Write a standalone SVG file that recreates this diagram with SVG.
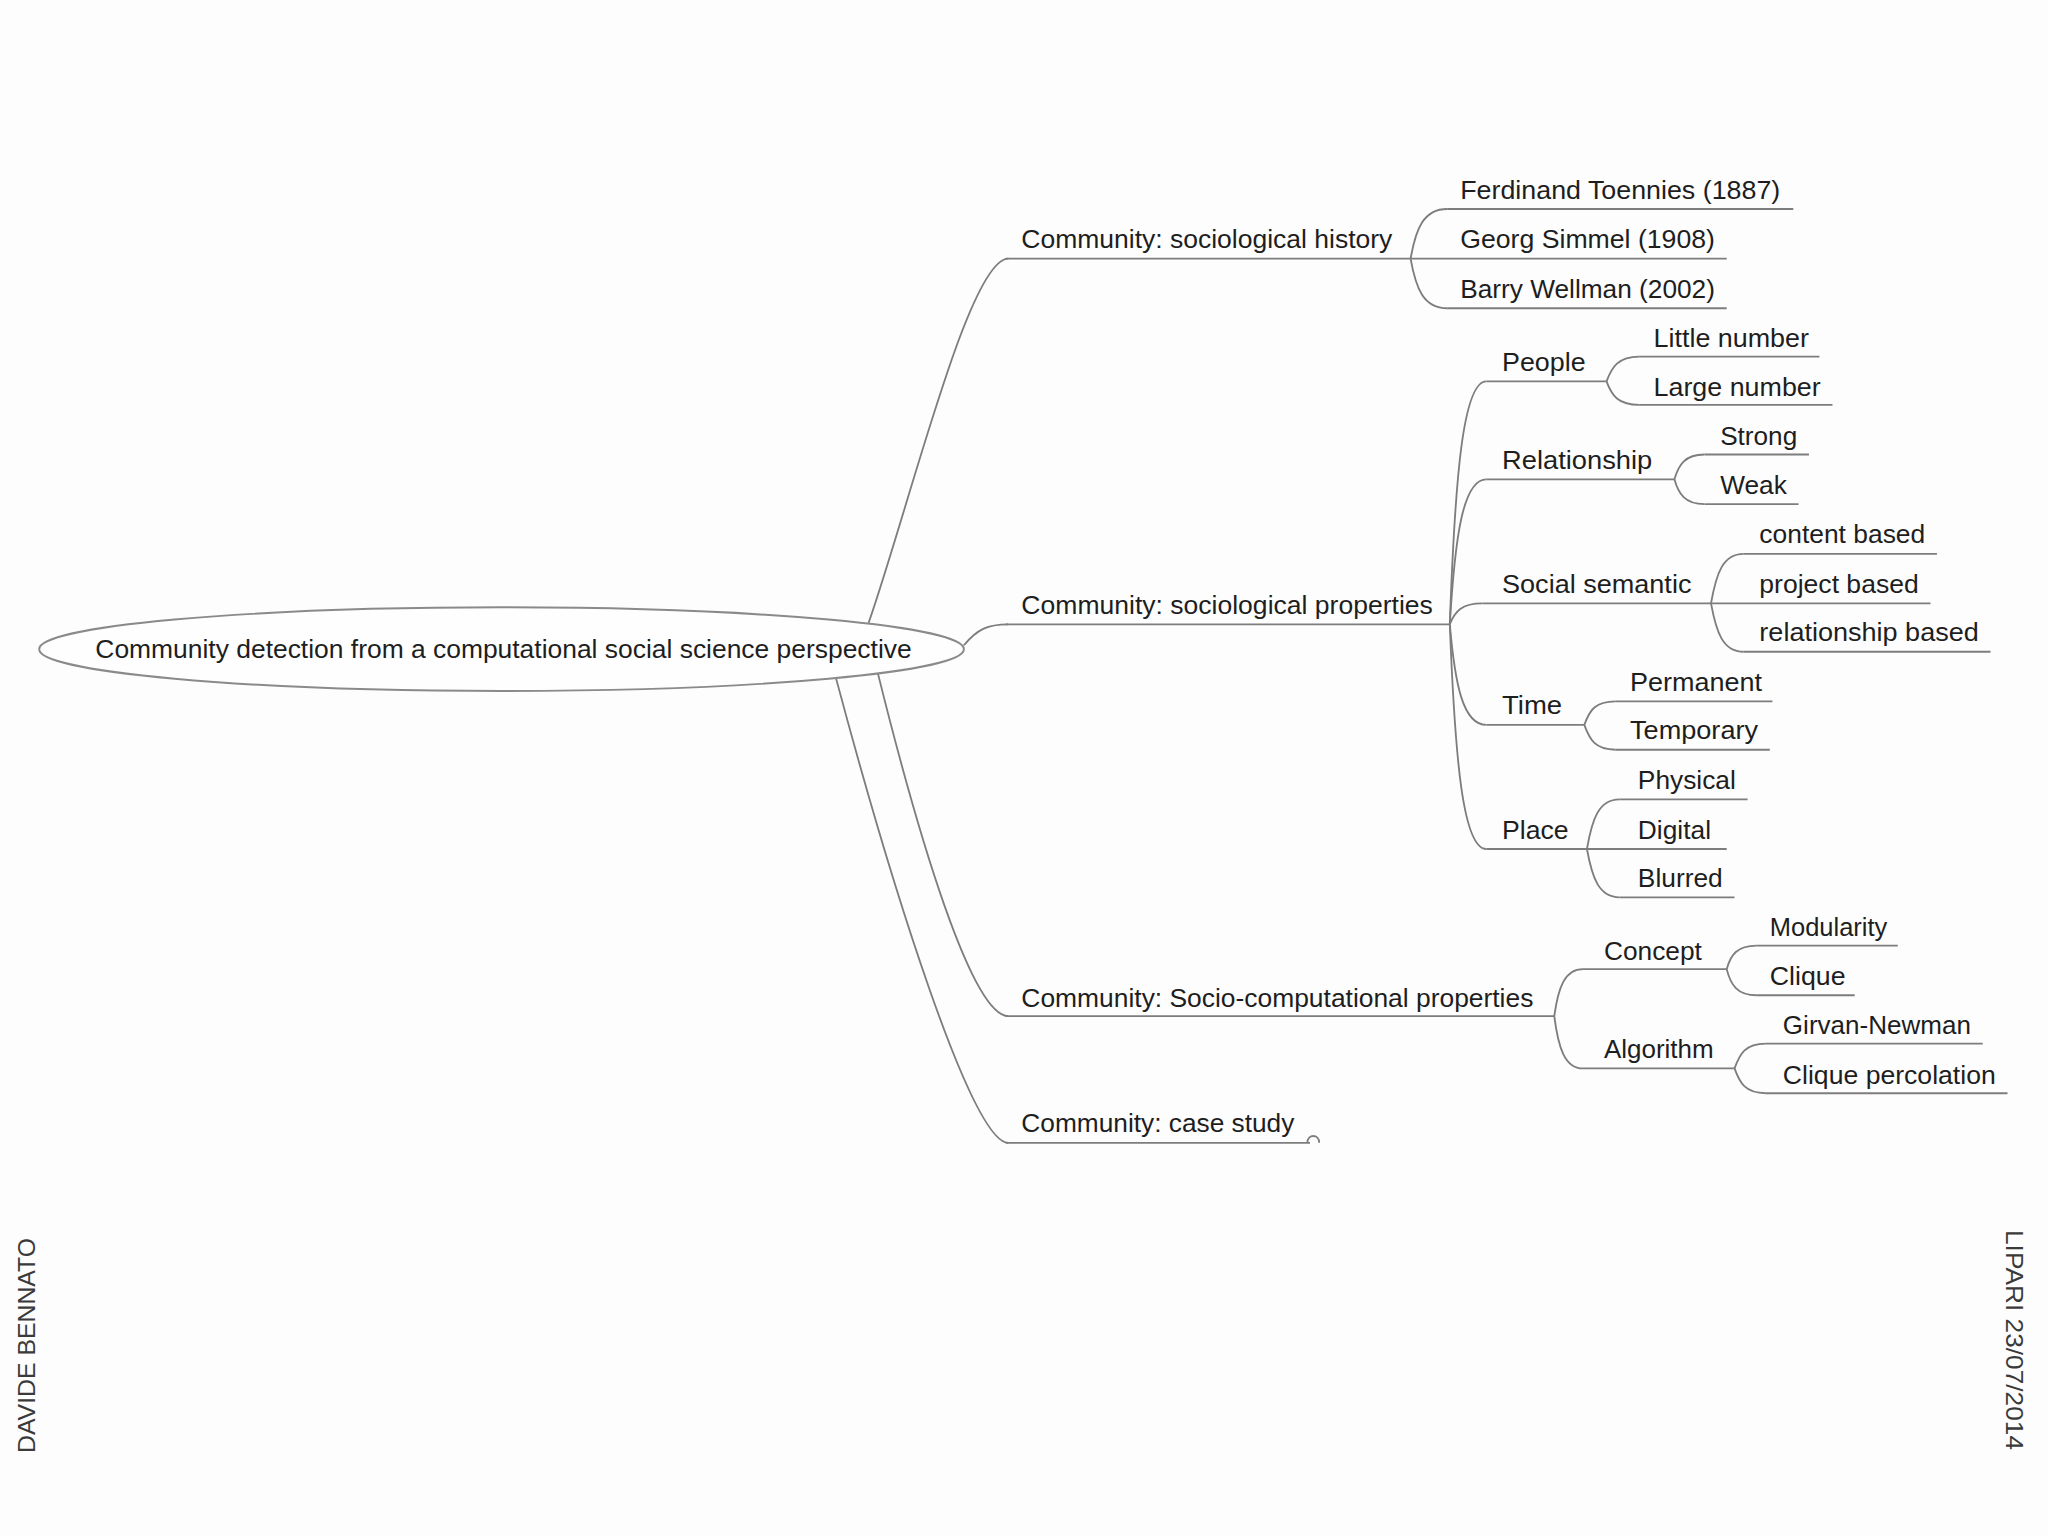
<svg xmlns="http://www.w3.org/2000/svg" width="2048" height="1536" viewBox="0 0 2048 1536">
<style>
.t{font-family:"Liberation Sans",Arial,sans-serif;font-size:19.5px;fill:#1e1e1e;}
.u{stroke:#7d7d7d;stroke-width:1.4;fill:none;}
.c{stroke:#7d7d7d;stroke-width:1.4;fill:none;}
.side{font-family:"Liberation Sans",Arial,sans-serif;font-size:24px;fill:#3a3a3a;}
</style>
<rect x="0" y="0" width="2048" height="1536" fill="#fdfdfd"/>
<g transform="scale(1.30612)">
<g id="connectors">
<path class="c" d="M665,477 C697,385 742,198 772,198"/>
<path class="c" d="M738,494 C748,482 756,478 772,478"/>
<path class="c" d="M672,515 C703,640 744,778 772,778"/>
<path class="c" d="M640,519 C683,680 744,875 772,875"/>
<path class="c" d="M1080,198 C1084,175 1090,160 1108,160"/>
<path class="c" d="M1080,198 C1084,221 1090,236 1108,236"/>
<path class="c" d="M1110,478 C1114,366 1120,292 1138,292"/>
<path class="c" d="M1110,478 C1114,411 1120,367 1138,367"/>
<path class="c" d="M1110,478 C1114,468 1119,462 1135,462"/>
<path class="c" d="M1110,478 C1114,524 1120,555 1138,555"/>
<path class="c" d="M1110,478 C1114,581 1120,650 1138,650"/>
<path class="c" d="M1190,778 C1193,756 1198,742 1212,742"/>
<path class="c" d="M1190,778 C1193,802 1198,818 1212,818"/>
<path class="c" d="M1230,292 C1234,281 1239,273 1255,273"/>
<path class="c" d="M1230,292 C1234,303 1239,310 1255,310"/>
<path class="c" d="M1282,367 C1285,356 1290,348 1305,348"/>
<path class="c" d="M1282,367 C1285,378 1290,386 1305,386"/>
<path class="c" d="M1310,462 C1314,439 1319,424 1335,424"/>
<path class="c" d="M1310,462 C1314,484 1319,499 1335,499"/>
<path class="c" d="M1213,555 C1217,544 1221,537 1237,537"/>
<path class="c" d="M1213,555 C1217,566 1221,574 1237,574"/>
<path class="c" d="M1215,650 C1219,627 1224,612 1240,612"/>
<path class="c" d="M1215,650 C1219,672 1224,687 1240,687"/>
<path class="c" d="M1322,742 C1325,731 1330,724 1345,724"/>
<path class="c" d="M1322,742 C1325,754 1330,762 1345,762"/>
<path class="c" d="M1328,818 C1332,807 1336,799 1352,799"/>
<path class="c" d="M1328,818 C1332,829 1336,837 1352,837"/>
</g>
<g id="root">
<ellipse cx="384" cy="497" rx="354" ry="32" fill="#fefefe" stroke="#8a8a8a" stroke-width="1.5"/>
<text class="t" x="73" y="504" textLength="625" lengthAdjust="spacingAndGlyphs">Community detection from a computational social science perspective</text>
</g>
<g id="n-history"><line class="u" x1="770" y1="198" x2="1080" y2="198"/><text class="t" x="782" y="190" textLength="284" lengthAdjust="spacingAndGlyphs">Community: sociological history</text></g>
<g id="n-properties"><line class="u" x1="770" y1="478" x2="1110" y2="478"/><text class="t" x="782" y="470" textLength="315" lengthAdjust="spacingAndGlyphs">Community: sociological properties</text></g>
<g id="n-socio"><line class="u" x1="770" y1="778" x2="1190" y2="778"/><text class="t" x="782" y="771" textLength="392" lengthAdjust="spacingAndGlyphs">Community: Socio-computational properties</text></g>
<g id="n-case"><line class="u" x1="770" y1="875" x2="1003" y2="875"/><path class="u" d="M1001,875 C1001,868 1010,868 1010,875"/><text class="t" x="782" y="867" textLength="209" lengthAdjust="spacingAndGlyphs">Community: case study</text></g>
<g id="n-toennies"><line class="u" x1="1108" y1="160" x2="1373" y2="160"/><text class="t" x="1118" y="152" textLength="245" lengthAdjust="spacingAndGlyphs">Ferdinand Toennies (1887)</text></g>
<g id="n-simmel"><line class="u" x1="1080" y1="198" x2="1322" y2="198"/><text class="t" x="1118" y="190" textLength="195" lengthAdjust="spacingAndGlyphs">Georg Simmel (1908)</text></g>
<g id="n-wellman"><line class="u" x1="1108" y1="236" x2="1322" y2="236"/><text class="t" x="1118" y="228" textLength="195" lengthAdjust="spacingAndGlyphs">Barry Wellman (2002)</text></g>
<g id="n-people"><line class="u" x1="1138" y1="292" x2="1230" y2="292"/><text class="t" x="1150" y="284" textLength="64" lengthAdjust="spacingAndGlyphs">People</text></g>
<g id="n-relationship"><line class="u" x1="1138" y1="367" x2="1282" y2="367"/><text class="t" x="1150" y="359" textLength="115" lengthAdjust="spacingAndGlyphs">Relationship</text></g>
<g id="n-semantic"><line class="u" x1="1135" y1="462" x2="1310" y2="462"/><text class="t" x="1150" y="454" textLength="145" lengthAdjust="spacingAndGlyphs">Social semantic</text></g>
<g id="n-time"><line class="u" x1="1138" y1="555" x2="1213" y2="555"/><text class="t" x="1150" y="547" textLength="46" lengthAdjust="spacingAndGlyphs">Time</text></g>
<g id="n-place"><line class="u" x1="1138" y1="650" x2="1215" y2="650"/><text class="t" x="1150" y="642" textLength="51" lengthAdjust="spacingAndGlyphs">Place</text></g>
<g id="n-little"><line class="u" x1="1255" y1="273" x2="1393" y2="273"/><text class="t" x="1266" y="266" textLength="119" lengthAdjust="spacingAndGlyphs">Little number</text></g>
<g id="n-large"><line class="u" x1="1255" y1="310" x2="1403" y2="310"/><text class="t" x="1266" y="303" textLength="128" lengthAdjust="spacingAndGlyphs">Large number</text></g>
<g id="n-strong"><line class="u" x1="1305" y1="348" x2="1385" y2="348"/><text class="t" x="1317" y="341" textLength="59" lengthAdjust="spacingAndGlyphs">Strong</text></g>
<g id="n-weak"><line class="u" x1="1305" y1="386" x2="1377" y2="386"/><text class="t" x="1317" y="378" textLength="51" lengthAdjust="spacingAndGlyphs">Weak</text></g>
<g id="n-content"><line class="u" x1="1335" y1="424" x2="1483" y2="424"/><text class="t" x="1347" y="416" textLength="127" lengthAdjust="spacingAndGlyphs">content based</text></g>
<g id="n-project"><line class="u" x1="1310" y1="462" x2="1478" y2="462"/><text class="t" x="1347" y="454" textLength="122" lengthAdjust="spacingAndGlyphs">project based</text></g>
<g id="n-relbased"><line class="u" x1="1335" y1="499" x2="1524" y2="499"/><text class="t" x="1347" y="491" textLength="168" lengthAdjust="spacingAndGlyphs">relationship based</text></g>
<g id="n-permanent"><line class="u" x1="1237" y1="537" x2="1357" y2="537"/><text class="t" x="1248" y="529" textLength="101" lengthAdjust="spacingAndGlyphs">Permanent</text></g>
<g id="n-temporary"><line class="u" x1="1237" y1="574" x2="1355" y2="574"/><text class="t" x="1248" y="566" textLength="98" lengthAdjust="spacingAndGlyphs">Temporary</text></g>
<g id="n-physical"><line class="u" x1="1240" y1="612" x2="1338" y2="612"/><text class="t" x="1254" y="604" textLength="75" lengthAdjust="spacingAndGlyphs">Physical</text></g>
<g id="n-digital"><line class="u" x1="1215" y1="650" x2="1322" y2="650"/><text class="t" x="1254" y="642" textLength="56" lengthAdjust="spacingAndGlyphs">Digital</text></g>
<g id="n-blurred"><line class="u" x1="1240" y1="687" x2="1328" y2="687"/><text class="t" x="1254" y="679" textLength="65" lengthAdjust="spacingAndGlyphs">Blurred</text></g>
<g id="n-concept"><line class="u" x1="1212" y1="742" x2="1322" y2="742"/><text class="t" x="1228" y="735" textLength="75" lengthAdjust="spacingAndGlyphs">Concept</text></g>
<g id="n-algorithm"><line class="u" x1="1212" y1="818" x2="1328" y2="818"/><text class="t" x="1228" y="810" textLength="84" lengthAdjust="spacingAndGlyphs">Algorithm</text></g>
<g id="n-modularity"><line class="u" x1="1345" y1="724" x2="1453" y2="724"/><text class="t" x="1355" y="717" textLength="90" lengthAdjust="spacingAndGlyphs">Modularity</text></g>
<g id="n-clique"><line class="u" x1="1345" y1="762" x2="1420" y2="762"/><text class="t" x="1355" y="754" textLength="58" lengthAdjust="spacingAndGlyphs">Clique</text></g>
<g id="n-girvan"><line class="u" x1="1352" y1="799" x2="1518" y2="799"/><text class="t" x="1365" y="792" textLength="144" lengthAdjust="spacingAndGlyphs">Girvan-Newman</text></g>
<g id="n-percolation"><line class="u" x1="1352" y1="837" x2="1537" y2="837"/><text class="t" x="1365" y="830" textLength="163" lengthAdjust="spacingAndGlyphs">Clique percolation</text></g>
</g>
<text class="side" transform="translate(35,1453) rotate(-90)" x="0" y="0" textLength="215" lengthAdjust="spacingAndGlyphs">DAVIDE BENNATO</text>
<text class="side" transform="translate(2006,1230) rotate(90)" x="0" y="0" textLength="220" lengthAdjust="spacingAndGlyphs">LIPARI 23/07/2014</text>
</svg>
